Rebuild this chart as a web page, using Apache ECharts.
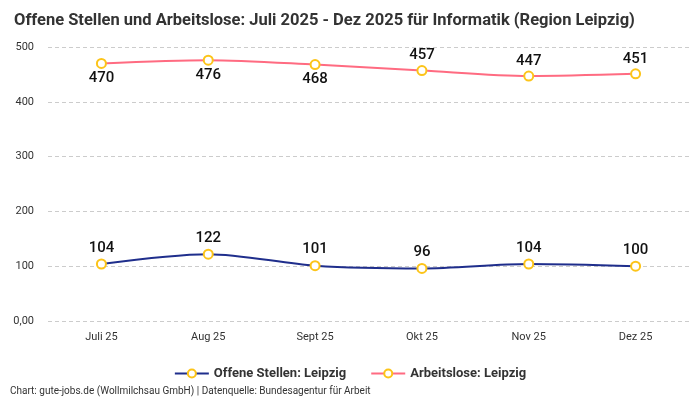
<!DOCTYPE html>
<html>
<head>
<meta charset="utf-8">
<script src="https://cdn.jsdelivr.net/npm/echarts@6/dist/echarts.min.js"></script>
<style>
  html, body { margin: 0; padding: 0; background: #fff; }
  #chart { width: 700px; height: 400px; }
</style>
</head>
<body>
<div id="chart"></div>
<script>
// Daten
const months = ['Juli 25', 'Aug 25', 'Sept 25', 'Okt 25', 'Nov 25', 'Dez 25']
const offeneStellen = [104, 122, 101, 96, 104, 100]
const arbeitslose = [470, 476, 468, 457, 447, 451]

const FONT = 'Roboto, sans-serif'

const chart = echarts.init(document.getElementById('chart'))

const optionData = {
  backgroundColor: '#fff',
  textStyle: { fontFamily: FONT },
  title: {
    text: 'Offene Stellen und Arbeitslose: Juli 2025 - Dez 2025 für Informatik (Region Leipzig)',
    left: 9,
    top: 7,
    textStyle: { fontFamily: FONT, fontSize: 16.5, fontWeight: 'bold', color: '#333' }
  },
  legend: {
    bottom: 15,
    left: 'center',
    itemWidth: 34,
    itemHeight: 10,
    itemGap: 24,
    textStyle: { fontFamily: FONT, fontSize: 13, fontWeight: 'bold', color: '#333' },
    data: ['Offene Stellen: Leipzig', 'Arbeitslose: Leipzig']
  },
  graphic: [{
    type: 'text',
    left: 10,
    bottom: 4,
    style: {
      text: 'Chart: gute-jobs.de (Wollmilchsau GmbH) | Datenquelle: Bundesagentur für Arbeit',
      fontFamily: FONT,
      fontSize: 10,
      fill: '#333'
    }
  }],
  grid: { left: 48, right: 11, top: 47, bottom: 79 },
  xAxis: {
    type: 'category',
    data: months,
    axisLine: { show: false },
    axisTick: { show: false },
    axisLabel: { color: '#333', fontSize: 11, margin: 11, fontFamily: FONT }
  },
  yAxis: {
    type: 'value',
    min: 0,
    max: 500,
    interval: 100,
    axisLabel: {
      color: '#333',
      fontSize: 11,
      margin: 14,
      fontFamily: FONT,
      formatter: v => (v === 0 ? '0,00' : v)
    },
    splitLine: { lineStyle: { type: [4, 3], color: '#ccc' } }
  },
  series: [
    {
      name: 'Offene Stellen: Leipzig',
      type: 'line',
      smooth: 0.3,
      symbol: 'circle',
      symbolSize: 9,
      data: offeneStellen,
      lineStyle: { color: '#1f2e8c', width: 2 },
      itemStyle: { color: '#fff', borderColor: '#fcc419', borderWidth: 2 },
      label: {
        show: true,
        position: 'top',
        distance: 3,
        fontFamily: FONT,
        fontSize: 15,
        fontWeight: 500,
        color: '#111'
      }
    },
    {
      name: 'Arbeitslose: Leipzig',
      type: 'line',
      smooth: 0.3,
      symbol: 'circle',
      symbolSize: 9,
      data: arbeitslose.map((v, i) => ({
        value: v,
        label: { position: i < 3 ? 'bottom' : 'top' }
      })),
      lineStyle: { color: '#ff6b81', width: 2 },
      itemStyle: { color: '#fff', borderColor: '#fcc419', borderWidth: 2 },
      label: {
        show: true,
        distance: 2,
        fontFamily: FONT,
        fontSize: 15,
        fontWeight: 500,
        color: '#111'
      }
    }
  ]
}

chart.setOption(optionData)
</script>
</body>
</html>
